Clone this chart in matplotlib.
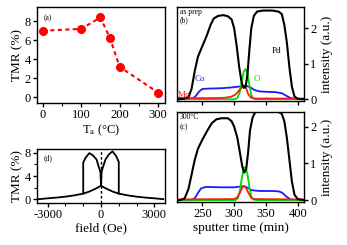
import matplotlib
matplotlib.use("Agg")
import matplotlib.pyplot as plt
from matplotlib.ticker import MultipleLocator

plt.rcParams['font.family'] = ['Liberation Serif', 'DejaVu Serif']
plt.rcParams['mathtext.fontset'] = 'stix'

# ---------------- data ----------------
# (a) TMR vs annealing temperature
ta_temp = [0, 100, 150, 175, 200, 300]
ta_tmr = [7.0, 7.2, 8.4, 6.2, 3.2, 0.5]

# (b) as prepared depth profiles
b_pd_x = [210, 220, 228, 233, 238, 243, 250, 257, 263, 268, 275, 283, 290, 296, 300, 304, 308, 312, 315, 318,
          321, 324, 327, 331, 336, 345, 360, 370, 375, 379, 383, 387, 391, 395, 400, 410]
b_pd_y = [0.0, 0.01, 0.05, 0.3, 0.8, 1.2, 1.5, 1.8, 2.1, 2.28, 2.35, 2.37, 2.34, 2.25, 2.0, 1.5, 0.9, 0.45, 0.32, 0.35,
          0.7, 1.4, 2.0, 2.35, 2.47, 2.5, 2.5, 2.47, 2.4, 2.1, 1.6, 0.9, 0.35, 0.08, 0.01, 0.0]
b_co_x = [210, 225, 235, 240, 245, 250, 260, 280, 295, 305, 312, 318, 325, 332, 340, 350, 365, 375, 382, 388, 395, 410]
b_co_y = [0.0, 0.0, 0.02, 0.1, 0.22, 0.29, 0.3, 0.31, 0.33, 0.35, 0.37, 0.38, 0.34, 0.26, 0.22, 0.21, 0.2, 0.17, 0.1, 0.04, 0.01, 0.0]
b_mg_x = [210, 230, 260, 285, 295, 302, 308, 313, 316, 319, 322, 326, 332, 360, 410]
b_mg_y = [0.04, 0.03, 0.03, 0.04, 0.07, 0.13, 0.25, 0.37, 0.38, 0.3, 0.15, 0.05, 0.02, 0.02, 0.02]
b_o_x = [210, 300, 305, 309, 312, 315, 318, 321, 324, 327, 330, 335, 410]
b_o_y = [0.0, 0.0, 0.03, 0.2, 0.5, 0.78, 0.85, 0.72, 0.4, 0.12, 0.02, 0.0, 0.0]

# (c) 300 C depth profiles
c_pd_x = [210, 215, 222, 228, 233, 238, 243, 250, 258, 265, 272, 280, 290, 296, 300, 305, 309, 313, 316, 319,
          322, 325, 329, 334, 345, 360, 370, 375, 379, 383, 387, 391, 395, 400, 410]
c_pd_y = [0.0, 0.0, 0.05, 0.3, 0.7, 1.1, 1.4, 1.65, 1.9, 2.1, 2.2, 2.23, 2.23, 2.15, 2.0, 1.7, 1.3, 0.9, 0.75, 0.85,
          1.3, 1.9, 2.25, 2.42, 2.47, 2.45, 2.4, 2.35, 2.15, 1.7, 1.1, 0.5, 0.15, 0.03, 0.0]
c_co_x = [210, 232, 238, 243, 248, 255, 280, 300, 310, 316, 322, 328, 340, 360, 370, 376, 382, 388, 395, 410]
c_co_y = [0.0, 0.0, 0.05, 0.2, 0.32, 0.36, 0.35, 0.35, 0.37, 0.38, 0.33, 0.27, 0.25, 0.25, 0.24, 0.2, 0.1, 0.03, 0.0, 0.0]
c_mg_x = [210, 300, 305, 309, 313, 316, 319, 323, 327, 332, 410]
c_mg_y = [0.02, 0.03, 0.08, 0.2, 0.35, 0.38, 0.33, 0.18, 0.06, 0.03, 0.02]
c_o_x = [210, 302, 306, 309, 312, 315, 318, 321, 324, 327, 330, 335, 410]
c_o_y = [0.0, 0.0, 0.05, 0.25, 0.6, 0.88, 0.9, 0.7, 0.35, 0.1, 0.02, 0.0, 0.0]

# (d) TMR vs field
d_bg_x = [-3500, -3000, -2500, -2000, -1500, -1000, -700, -400, -200, 0, 200, 400, 700, 1000, 1500, 2000, 2500, 3000, 3500]
d_bg_y = [0.05, 0.2, 0.32, 0.48, 0.7, 1.0, 1.3, 1.7, 2.0, 2.35, 2.0, 1.7, 1.3, 1.0, 0.7, 0.48, 0.32, 0.2, 0.05]
d_left_x = [-1000, -1000, -850, -650, -450, -250, -120, -30, 0]
d_left_y = [1.0, 6.3, 7.2, 7.9, 7.5, 6.8, 5.5, 4.7, 2.35]
d_right_x = [0, 30, 120, 250, 450, 650, 850, 1000, 1000]
d_right_y = [2.35, 4.7, 5.6, 6.8, 7.7, 8.2, 7.4, 6.4, 1.0]

# ---------------- figure ----------------
W, H = 347, 245
fig = plt.figure(figsize=(W / 100, H / 100), dpi=100)


def ax_px(l, t, r, b):
    return fig.add_axes([l / W, 1 - b / H, (r - l) / W, (b - t) / H])


FS = 9
TL = 3


def style(ax):
    for s in ax.spines.values():
        s.set_linewidth(1.0)
    ax.tick_params(direction='out', length=TL, width=1.0, labelsize=FS, pad=1.5)
    ax.tick_params(which='minor', direction='out', length=2, width=0.8)


# (a)
axa = ax_px(37, 7, 165, 103)
axa.plot(ta_temp, ta_tmr, color='red', ls=(0, (2, 1.6)), lw=1.5, marker='o', ms=5.5, mec='red', mfc='red')
axa.set_xlim(-15, 318)
axa.set_ylim(-0.6, 9.5)
axa.set_xticks([0, 100, 200, 300])
axa.xaxis.set_minor_locator(MultipleLocator(50))
axa.set_yticks([0, 2, 4, 6, 8])
style(axa)
axa.set_xlabel(r'T$_\mathrm{a}$ (°C)', fontsize=FS, labelpad=1)
axa.set_ylabel('TMR (%)', fontsize=FS + 0.5, labelpad=1)
axa.text(0.05, 0.93, '(a)', transform=axa.transAxes, fontsize=5.5, va='top')

# (d)
axd = ax_px(37, 149, 165, 203)
axd.plot(d_bg_x, d_bg_y, color='black', lw=1.3)
axd.plot(d_left_x, d_left_y, color='black', lw=1.3)
axd.plot(d_right_x, d_right_y, color='black', lw=1.3)
axd.axvline(0, color='black', ls=(0, (2, 1.5)), lw=1.0)
axd.set_xlim(-3600, 3600)
axd.set_ylim(-0.6, 8.6)
axd.set_xticks([-3000, 0, 3000])
axd.set_xticklabels(['-3000', '0', '3000'])
axd.xaxis.set_minor_locator(MultipleLocator(1000))
axd.set_yticks([0, 4, 8])
axd.yaxis.set_minor_locator(MultipleLocator(2))
style(axd)
axd.set_xlabel('field (Oe)', fontsize=FS + 0.5, labelpad=1)
axd.set_ylabel('TMR (%)', fontsize=FS + 0.5, labelpad=1)
axd.text(0.05, 0.9, '(d)', transform=axd.transAxes, fontsize=5.5, va='top')

GREEN = '#00dd00'
BLUE = '#1a1aff'
RED = '#ff1a1a'


def depth(ax, pd, co, mg, o, ylim):
    ax.plot(*co, color=BLUE, lw=1.3)
    ax.plot(*o, color=GREEN, lw=1.3)
    ax.plot(*mg, color=RED, lw=1.3)
    ax.plot(*pd, color='black', lw=1.5)
    ax.set_xlim(210, 410)
    ax.set_ylim(*ylim)
    ax.set_xticks([250, 300, 350, 400])
    ax.set_yticks([0, 1, 2])
    ax.yaxis.tick_right()
    ax.yaxis.set_label_position('right')
    style(ax)
    ax.set_ylabel('intensity (a.u.)', fontsize=FS + 0.5, labelpad=3)


axb = ax_px(177, 7, 304, 101)
depth(axb, (b_pd_x, b_pd_y), (b_co_x, b_co_y), (b_mg_x, b_mg_y), (b_o_x, b_o_y), (-0.05, 2.6))
axb.tick_params(labelbottom=False)
axb.text(0.02, 0.985, 'as prep', transform=axb.transAxes, fontsize=5.5, va='top')
axb.text(0.02, 0.9, '(b)', transform=axb.transAxes, fontsize=5.5, va='top')
axb.text(238, 0.5, 'Co', color=BLUE, fontsize=6.5)
axb.text(331, 0.5, 'O', color=GREEN, fontsize=6.5)
axb.text(360, 1.3, 'Pd', color='black', fontsize=6.5)
axb.text(211, 0.07, 'Mg', color=RED, fontsize=6.5)

axc = ax_px(177, 112, 304, 202)
depth(axc, (c_pd_x, c_pd_y), (c_co_x, c_co_y), (c_mg_x, c_mg_y), (c_o_x, c_o_y), (-0.05, 2.4))
axc.set_xlabel('sputter time (min)', fontsize=FS + 0.5, labelpad=1)
axc.text(0.02, 0.985, '300°C', transform=axc.transAxes, fontsize=5.5, va='top')
axc.text(0.02, 0.88, '(c)', transform=axc.transAxes, fontsize=5.5, va='top')

fig.savefig('out.png', dpi=100)
